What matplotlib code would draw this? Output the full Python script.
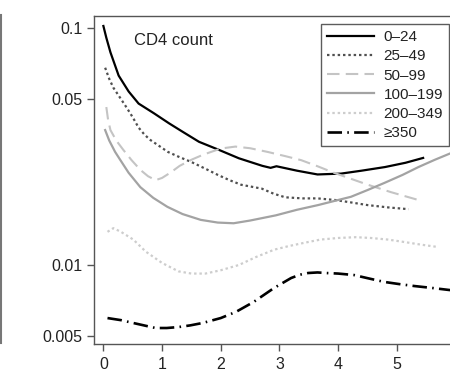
import matplotlib
matplotlib.use("Agg")
import matplotlib.pyplot as plt
from matplotlib.lines import Line2D

plt.rcParams['font.family'] = ['Liberation Sans', 'DejaVu Sans']

# values (time on x, rate on a log y axis)
x_0_24 = [0.0, 0.05, 0.12, 0.26, 0.43, 0.6, 0.86, 1.12, 1.35, 1.63, 1.97, 2.31, 2.71, 2.85, 2.95, 3.3, 3.65, 4.05, 4.4, 4.8, 5.15, 5.45]
y_0_24 = [0.102, 0.091, 0.079, 0.063, 0.054, 0.048, 0.0437, 0.0396, 0.0365, 0.0331, 0.0306, 0.0282, 0.0262, 0.0257, 0.0261, 0.0250, 0.0241, 0.0243, 0.0250, 0.0259, 0.0270, 0.0283]

x_25_49 = [0.03, 0.1, 0.17, 0.28, 0.4, 0.5, 0.6, 0.7, 0.8, 0.95, 1.1, 1.3, 1.5, 1.75, 1.95, 2.15, 2.35, 2.7, 2.9, 3.1, 3.4, 3.65, 3.95, 4.2, 4.5, 4.85, 5.2]
y_25_49 = [0.068, 0.061, 0.056, 0.051, 0.046, 0.042, 0.038, 0.0355, 0.0337, 0.0318, 0.030, 0.0285, 0.0272, 0.0254, 0.024, 0.0228, 0.0218, 0.0210, 0.0200, 0.0193, 0.0191, 0.0191, 0.0188, 0.0184, 0.0179, 0.0175, 0.0172]

x_50_99 = [0.05, 0.08, 0.12, 0.22, 0.34, 0.48, 0.63, 0.76, 0.89, 1.0, 1.15, 1.3, 1.5, 1.7, 2.0, 2.25, 2.5, 2.8, 3.1, 3.37, 3.65, 3.93, 4.2, 4.51, 4.9, 5.37]
y_50_99 = [0.0464, 0.041, 0.0371, 0.0335, 0.0306, 0.0277, 0.0252, 0.0237, 0.0228, 0.0233, 0.0246, 0.0262, 0.0278, 0.0292, 0.0310, 0.0316, 0.0311, 0.0300, 0.0288, 0.0277, 0.0261, 0.0245, 0.0232, 0.0218, 0.0203, 0.0188]

x_100_199 = [0.03, 0.1, 0.2, 0.29, 0.43, 0.63, 0.85, 1.09, 1.35, 1.66, 1.95, 2.22, 2.5, 2.94, 3.3, 3.66, 4.0, 4.22, 4.5, 4.79, 5.1, 5.37, 5.65, 5.93, 6.3]
y_100_199 = [0.0371, 0.0335, 0.0300, 0.0277, 0.0245, 0.0213, 0.0192, 0.0176, 0.0164, 0.0155, 0.0151, 0.0150, 0.0154, 0.0162, 0.0171, 0.0179, 0.0188, 0.0194, 0.0207, 0.0222, 0.0240, 0.0259, 0.0278, 0.0297, 0.0325]

x_200_349 = [0.07, 0.17, 0.3, 0.51, 0.72, 1.0, 1.28, 1.5, 1.74, 2.0, 2.31, 2.6, 2.91, 3.15, 3.42, 3.7, 4.0, 4.3, 4.56, 4.85, 5.13, 5.4, 5.71]
y_200_349 = [0.0138, 0.0143, 0.0138, 0.0128, 0.0114, 0.0102, 0.0094, 0.0092, 0.0092, 0.0095, 0.0100, 0.0108, 0.0116, 0.0120, 0.0124, 0.0128, 0.0130, 0.0131, 0.0130, 0.0128, 0.0125, 0.0122, 0.0119]

x_350 = [0.07, 0.3, 0.51, 0.89, 1.08, 1.28, 1.48, 1.69, 2.0, 2.26, 2.56, 2.91, 3.2, 3.35, 3.49, 3.65, 3.79, 4.0, 4.27, 4.5, 4.79, 5.05, 5.3, 5.6, 5.88, 6.3]
y_350 = [0.00597, 0.00585, 0.00569, 0.00542, 0.00542, 0.00547, 0.00556, 0.00569, 0.00597, 0.00634, 0.00698, 0.00800, 0.00881, 0.00910, 0.00925, 0.00930, 0.00925, 0.00920, 0.00907, 0.00880, 0.00848, 0.00830, 0.00815, 0.00800, 0.00785, 0.00765]

labels = ['0\u201324', '25\u201349', '50\u201399', '100\u2013199', '200\u2013349', '\u2265350']
y_ticks = [0.005, 0.01, 0.05, 0.1]
y_tick_labels = ['0.005', '0.01', '0.05', '0.1']
x_ticks = [0, 1, 2, 3, 4, 5, 6]

W, H = 450, 369
fig = plt.figure(figsize=(W / 100, H / 100), dpi=100)

# axes runs past the right edge, like the cropped original
ax = fig.add_axes([94 / W, (H - 344) / H, 379 / W, 328 / H])
ax.set_yscale('log')

ax.plot(x_0_24, y_0_24, color='black', lw=1.6, label=labels[0])
ax.plot(x_25_49, y_25_49, color='#505050', lw=1.6, ls=(0, (1.1, 1.3)), label=labels[1])
ax.plot(x_50_99, y_50_99, color='#c4c4c4', lw=1.5, ls=(0, (6, 3)), label=labels[2])
ax.plot(x_100_199, y_100_199, color='#a3a3a3', lw=1.6, label=labels[3])
ax.plot(x_200_349, y_200_349, color='#cdcdcd', lw=1.6, ls=(0, (1.1, 1.3)), label=labels[4])
ax.plot(x_350, y_350, color='black', lw=1.9, ls=(0, (5.5, 2, 0.6, 2)), label=labels[5])

ax.set_xlim(-0.16, 6.3)
ax.set_ylim(0.00464, 0.1124)
ax.set_yticks(y_ticks)
ax.set_yticklabels(y_tick_labels)
ax.yaxis.set_minor_locator(matplotlib.ticker.NullLocator())
ax.set_xticks(x_ticks)

for s in ax.spines.values():
    s.set_color('#555555')
    s.set_linewidth(1.0)
ax.tick_params(axis='both', direction='out', length=5, width=1.0, color='#555555',
               labelsize=11.5, labelcolor='#222222')
ax.tick_params(axis='y', pad=3.5)
ax.tick_params(axis='x', pad=4.5)

ax.text(0.52, 0.0885, 'CD4 count', fontsize=12, color='#222222', va='center')

leg = ax.legend(loc='upper left', bbox_to_anchor=(321 / W, 1 - 24 / H),
                bbox_transform=fig.transFigure, borderaxespad=0, fontsize=11,
                frameon=True, fancybox=False, handlelength=3.1, handletextpad=0.6,
                labelspacing=0.34, borderpad=0.4)
leg.get_frame().set_edgecolor('#333333')
leg.get_frame().set_linewidth(1.0)
for t in leg.get_texts():
    t.set_color('#222222')

# edge of the neighbouring panel at far left
fig.add_artist(Line2D([1 / W, 1 / W], [1 - 15 / H, 1 - 343 / H], transform=fig.transFigure,
                      color='#777777', lw=1.5))

fig.savefig('out.png', dpi=100)
